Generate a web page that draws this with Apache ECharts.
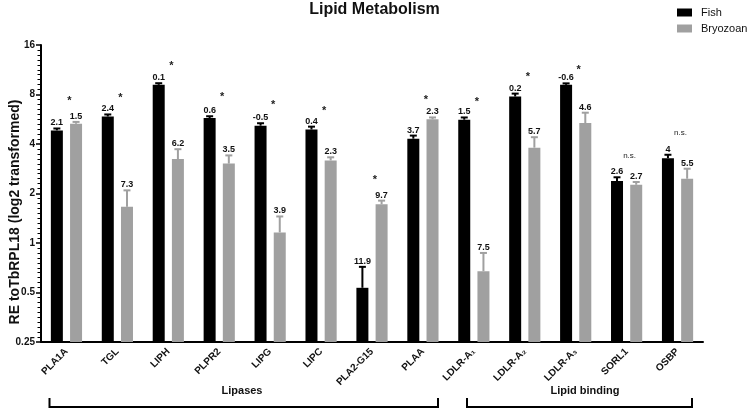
<!DOCTYPE html>
<html>
<head>
<meta charset="utf-8">
<script src="https://cdn.jsdelivr.net/npm/echarts@6/dist/echarts.min.js"></script>
<style>html,body{margin:0;padding:0;background:#fff}#c{width:749px;height:413px}</style>
</head>
<body>
<div id="c"></div>
<script>
// ---- data ----
const categories = ['PLA1A', 'TGL', 'LIPH', 'PLPR2', 'LIPG', 'LIPC', 'PLA2-G15', 'PLAA', 'LDLR-A\u2081', 'LDLR-A\u2082', 'LDLR-A\u2083', 'SORL1', 'OSBP'];
const fishMean   = [4.84, 5.88, 9.16, 5.75, 5.17, 4.90, 0.534, 4.31, 5.62, 7.78, 9.16, 2.38, 3.28];
const fishErrTop = [4.97, 6.05, 9.37, 5.90, 5.35, 5.10, 0.716, 4.50, 5.80, 8.10, 9.35, 2.51, 3.44];
const fishLabels = ['2.1', '2.4', '0.1', '0.6', '-0.5', '0.4', '11.9', '3.7', '1.5', '0.2', '-0.6', '2.6', '4'];
const bryMean    = [5.31, 1.66, 3.24, 3.04, 1.16, 3.18, 1.72, 5.66, 0.674, 3.80, 5.36, 2.26, 2.46];
const bryErrTop  = [5.45, 2.09, 3.72, 3.41, 1.45, 3.32, 1.81, 5.80, 0.87, 4.40, 6.20, 2.35, 2.83];
const bryLabels  = ['1.5', '7.3', '6.2', '3.5', '3.9', '2.3', '9.7', '2.3', '7.5', '5.7', '4.6', '2.7', '5.5'];
const sigText    = ['*', '*', '*', '*', '*', '*', '*', '*', '*', '*', '*', 'n.s.', 'n.s.'];
const sigPos     = [7.6, 8.0, 12.5, 8.1, 7.25, 6.67, 2.51, 7.78, 7.56, 10.7, 11.8, 3.41, 4.7];
const yTicks     = [0.25, 0.5, 1, 2, 4, 8, 16];
const groupNames = ['Lipases', 'Lipid binding'];

const FONT = '"Liberation Sans", Arial, Helvetica, sans-serif';
const yMin = yTicks[0], yMax = yTicks[yTicks.length - 1];
const BAR_W = 12, OFF = 9.6, CAP = 7;

function makeRender(offset, color, labels) {
  return function (params, api) {
    const i = api.value(0), v = api.value(1), e = api.value(2);
    const pTop = api.coord([i, v]);
    const pBase = api.coord([i, yMin]);
    const pErr = api.coord([i, e]);
    const cx = pTop[0] + offset;
    return {
      type: 'group',
      children: [
        { type: 'rect', shape: { x: cx - BAR_W / 2, y: pTop[1], width: BAR_W, height: pBase[1] - pTop[1] }, style: { fill: color } },
        { type: 'line', shape: { x1: cx, y1: pTop[1], x2: cx, y2: pErr[1] }, style: { stroke: color, lineWidth: 2 } },
        { type: 'line', shape: { x1: cx - CAP / 2, y1: pErr[1], x2: cx + CAP / 2, y2: pErr[1] }, style: { stroke: color, lineWidth: 2 } },
        { type: 'text', x: cx, y: pErr[1] - 1, style: { text: labels[params.dataIndex], fill: '#111', fontSize: 9, fontWeight: 'bold', fontFamily: FONT, align: 'center', verticalAlign: 'bottom' } }
      ]
    };
  };
}

function sigRender(params, api) {
  const i = api.value(0), v = api.value(1);
  const p = api.coord([i, v]);
  const t = sigText[params.dataIndex];
  const star = t === '*';
  return {
    type: 'text', x: p[0] + 3, y: p[1] + (star ? 3 : 0),
    style: { text: t, fill: '#222', fontSize: star ? 11 : 8, fontWeight: star ? 'bold' : 'normal', fontFamily: FONT, align: 'center', verticalAlign: 'middle' }
  };
}

const log2Min = Math.log2(yMin), log2Max = Math.log2(yMax);

const chart = echarts.init(document.getElementById('c'), null, { renderer: 'canvas' });
chart.setOption({
  animation: false,
  backgroundColor: '#fff',
  title: {
    text: 'Lipid Metabolism', left: 'center', top: 0, padding: [2, 5, 5, 5],
    textStyle: { fontFamily: FONT, fontSize: 16, fontWeight: 'bold', color: '#111' }
  },
  legend: {
    orient: 'vertical', left: 672, top: 2,
    itemWidth: 15, itemHeight: 8, itemGap: 5,
    icon: 'rect',
    data: ['Fish', 'Bryozoan'],
    textStyle: { fontFamily: FONT, fontSize: 11, color: '#111', lineHeight: 11, padding: [0, 0, 0, 4] }
  },
  grid: { left: 41, right: 46, top: 45, bottom: 71, containLabel: false },
  xAxis: {
    type: 'category',
    data: categories,
    axisLine: { onZero: false, lineStyle: { color: '#000', width: 2 } },
    axisTick: { alignWithLabel: true, length: 4, lineStyle: { color: '#000', width: 1.5 } },
    axisLabel: { rotate: 45, margin: 8, interval: 0, fontFamily: FONT, fontSize: 10, fontWeight: 'bold', color: '#111' }
  },
  yAxis: [{
    type: 'log', logBase: 2, min: yMin, max: yMax, splitNumber: yTicks.length - 1,
    axisLine: { show: true, lineStyle: { color: '#000', width: 2 } },
    axisTick: { show: true, length: 5, lineStyle: { color: '#000', width: 1.5 } },
    splitLine: { show: false },
    axisLabel: { margin: 6, fontFamily: FONT, fontSize: 10, fontWeight: 'bold', color: '#111' }
  }, {
    // helper axis in log2 units, only to draw the minor ticks along the same line
    type: 'value', min: log2Min, max: log2Max, interval: 1, position: 'left',
    axisLine: { show: false },
    axisTick: { show: false },
    minorTick: { show: true, splitNumber: 10, length: 3.5, lineStyle: { color: '#000', width: 1 } },
    splitLine: { show: false },
    minorSplitLine: { show: false },
    axisLabel: { show: false }
  }],
  graphic: [
    { type: 'text', x: 15, y: 212, rotation: Math.PI / 2,
      style: { text: 'RE toTbRPL18 (log2 transformed)', fontFamily: FONT, fontSize: 14, fontWeight: 'bold', fill: '#111', align: 'center', verticalAlign: 'middle' } },
    { type: 'polyline', shape: { points: [[49.5, 398], [49.5, 407], [438, 407], [438, 398]] }, style: { stroke: '#000', lineWidth: 2, fill: null } },
    { type: 'text', x: 242, y: 391, style: { text: groupNames[0], fontFamily: FONT, fontSize: 11, fontWeight: 'bold', fill: '#111', align: 'center', verticalAlign: 'middle' } },
    { type: 'polyline', shape: { points: [[467, 398], [467, 407], [692, 407], [692, 398]] }, style: { stroke: '#000', lineWidth: 2, fill: null } },
    { type: 'text', x: 585, y: 391, style: { text: groupNames[1], fontFamily: FONT, fontSize: 11, fontWeight: 'bold', fill: '#111', align: 'center', verticalAlign: 'middle' } }
  ],
  series: [
    { name: 'Fish', type: 'custom', itemStyle: { color: '#000' }, encode: { x: 0, y: 1 },
      renderItem: makeRender(-OFF, '#000', fishLabels),
      data: fishMean.map((v, i) => [i, v, fishErrTop[i]]) },
    { name: 'Bryozoan', type: 'custom', itemStyle: { color: '#a0a0a0' }, encode: { x: 0, y: 1 },
      renderItem: makeRender(OFF, '#a0a0a0', bryLabels),
      data: bryMean.map((v, i) => [i, v, bryErrTop[i]]) },
    { name: 'sig', type: 'custom', encode: { x: 0, y: 1 }, renderItem: sigRender,
      data: sigPos.map((v, i) => [i, v]) }
  ]
});
</script>
</body>
</html>
